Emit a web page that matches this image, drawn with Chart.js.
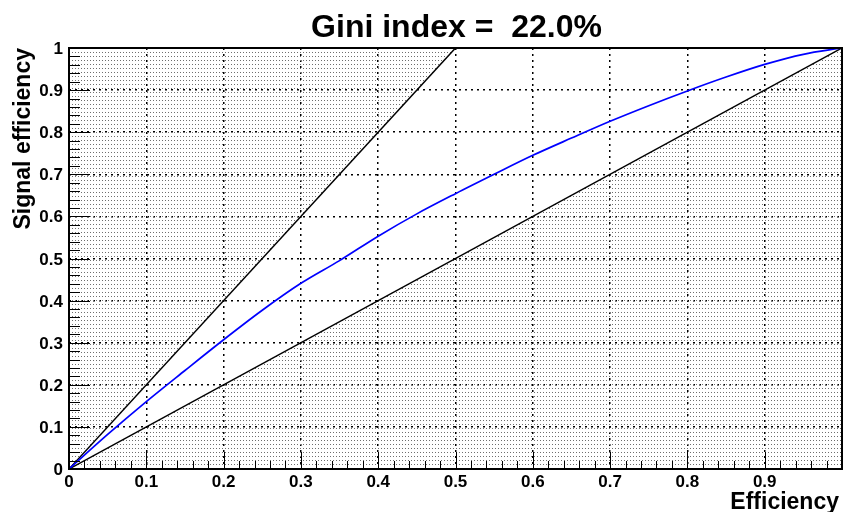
<!DOCTYPE html>
<html>
<head>
<meta charset="utf-8">
<script src="https://cdn.jsdelivr.net/npm/chart.js@4"></script>
<style>
  html, body { margin: 0; padding: 0; background: #fff; }
  canvas { display: block; }
</style>
</head>
<body>
<canvas id="rocChart" width="843" height="512"></canvas>
<script>
// Data
const effX = [0, 0.05, 0.1, 0.15, 0.2, 0.25, 0.3, 0.35, 0.4, 0.45, 0.5,
              0.55, 0.6, 0.65, 0.7, 0.75, 0.8, 0.85, 0.9, 0.95, 1.0];
const sigEff = [0, 0.082, 0.160, 0.234, 0.307, 0.377, 0.441, 0.495, 0.553, 0.606, 0.654,
                0.700, 0.745, 0.786, 0.826, 0.863, 0.898, 0.931, 0.961, 0.985, 1.0];
const upperX = [0, 0.5];
const upperY = [0, 1];
const diagX = [0, 1];
const diagY = [0, 1];
const tickValues = [0, 0.1, 0.2, 0.3, 0.4, 0.5, 0.6, 0.7, 0.8, 0.9, 1];
const tickLabels = ['0', '0.1', '0.2', '0.3', '0.4', '0.5', '0.6', '0.7', '0.8', '0.9', '1'];
const titleText = 'Gini index =  22.0%';
const xTitle = 'Efficiency';
const yTitle = 'Signal efficiency';

const FONT = "'Liberation Sans', Arial, Helvetica, sans-serif";

function toPoints(xs, ys) {
    return xs.map((x, i) => ({ x: x, y: ys[i] }));
}

// dotted fill pattern
const canvas = document.getElementById('rocChart');
const ctx = canvas.getContext('2d');
const tile = document.createElement('canvas');
tile.width = 3;
tile.height = 4;
const tctx = tile.getContext('2d');
tctx.fillStyle = '#6e6e6e';
tctx.fillRect(0, 0, 1, 1);
const dots = ctx.createPattern(tile, 'repeat');

// Axes, ticks, titles (ROOT style)
const rootFrame = {
    id: 'rootFrame',
    afterDraw(chart) {
        const c = chart.ctx;
        const xs = chart.scales.x;
        const ys = chart.scales.y;
        const a = chart.chartArea;
        c.save();

        // ticks inside the frame
        c.strokeStyle = '#000';
        c.lineWidth = 1;
        c.beginPath();
        for (let i = 0; i <= 50; i++) {
            const v = i / 50;
            const major = i % 5 === 0;
            const px = Math.round(xs.getPixelForValue(v)) + 0.5;
            c.moveTo(px, a.bottom);
            c.lineTo(px, a.bottom - (major ? 17 : 8));
            const py = Math.round(ys.getPixelForValue(v)) + 0.5;
            c.moveTo(a.left, py);
            c.lineTo(a.left + (major ? 21 : 11), py);
        }
        c.stroke();

        // frame
        c.lineWidth = 2;
        c.beginPath();
        c.moveTo(a.left, a.top);
        c.lineTo(a.right, a.top);
        c.lineTo(a.right, a.bottom);
        c.lineTo(a.left, a.bottom);
        c.closePath();
        c.stroke();

        // tick labels
        c.fillStyle = '#000';
        c.font = 'bold 17px ' + FONT;
        c.textBaseline = 'alphabetic';
        tickValues.forEach((v, i) => {
            c.textAlign = 'center';
            c.fillText(tickLabels[i], xs.getPixelForValue(v) + (i === 10 ? 5 : 0), 487);
            c.textAlign = 'right';
            c.fillText(tickLabels[i], 63, ys.getPixelForValue(v) + 6);
        });

        // title
        c.font = 'bold 32px ' + FONT;
        c.textAlign = 'center';
        c.fillText(titleText, (a.left + a.right) / 2 + 1, 37);

        // axis titles
        c.font = 'bold 23px ' + FONT;
        c.textAlign = 'right';
        c.fillText(xTitle, 839, 509);
        c.translate(30, a.top);
        c.rotate(-Math.PI / 2);
        c.fillText(yTitle, 0, 0);
        c.restore();
    }
};

new Chart(ctx, {
    type: 'scatter',
    data: {
        datasets: [
            {
                data: toPoints(effX, sigEff),
                showLine: true,
                borderColor: '#0000ff',
                borderWidth: 1.7,
                pointRadius: 0,
                cubicInterpolationMode: 'monotone',
                fill: false
            },
            {
                data: toPoints(upperX, upperY),
                showLine: true,
                borderColor: '#000',
                borderWidth: 1.5,
                pointRadius: 0,
                fill: 'end',
                backgroundColor: dots
            },
            {
                data: toPoints(diagX, diagY),
                showLine: true,
                borderColor: '#000',
                borderWidth: 1.5,
                pointRadius: 0,
                fill: 'start',
                backgroundColor: dots
            }
        ]
    },
    options: {
        responsive: false,
        animation: false,
        layout: { padding: { left: 69, right: 1, top: 48, bottom: 43 } },
        plugins: {
            legend: { display: false },
            tooltip: { enabled: false },
            title: { display: false }
        },
        scales: {
            x: {
                type: 'linear',
                min: 0,
                max: 1,
                ticks: { display: false, stepSize: 0.1 },
                grid: { color: '#000', lineWidth: 1.5, drawTicks: false },
                border: { display: false, dash: [2, 4] }
            },
            y: {
                type: 'linear',
                min: 0,
                max: 1,
                ticks: { display: false, stepSize: 0.1 },
                grid: { color: '#000', lineWidth: 1.5, drawTicks: false },
                border: { display: false, dash: [2, 4] }
            }
        }
    },
    plugins: [rootFrame]
});
</script>
</body>
</html>
